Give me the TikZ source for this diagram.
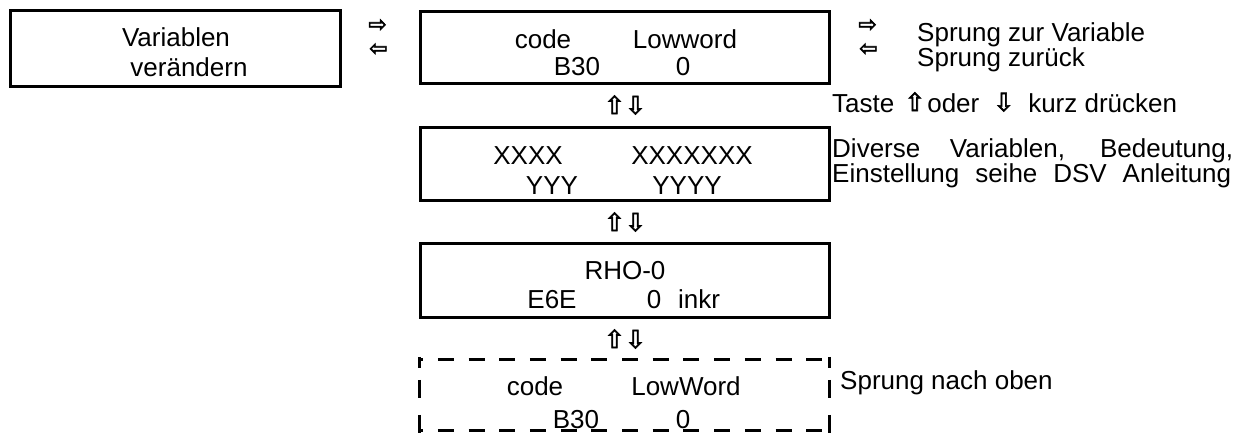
\documentclass[tikz,border=0pt]{standalone}
\usepackage{fontspec}
\setmainfont{Liberation Sans}
\newfontfamily\arrowfont{DejaVu Sans}[FakeBold=2.5]
\tikzset{
  box/.style={draw, line width=3pt, rectangle, inner sep=0pt},
  dline/.style={line width=3pt, dash pattern=on 16pt off 14.7pt, dash phase=12.7pt},
  vdline/.style={line width=3pt, dash pattern=on 11pt off 12pt on 18pt off 17pt on 20pt},
  txt/.style={font=\fontsize{26}{30}\selectfont, inner sep=0pt, anchor=base},
  ltxt/.style={txt, anchor=base west},
  harr/.style={font=\arrowfont\fontsize{22}{22}\selectfont, inner sep=0pt},
  varr/.style={font=\arrowfont\fontsize{25}{25}\selectfont, inner sep=0pt},
}
\newcommand{\ua}{\raisebox{1pt}{{\arrowfont\fontsize{25}{25}\selectfont ⇧}}}
\newcommand{\da}{\raisebox{1pt}{{\arrowfont\fontsize{25}{25}\selectfont ⇩}}}
\begin{document}
\begin{tikzpicture}[x=1pt,y=-1pt]
\useasboundingbox (0,0) rectangle (1242,432);
% boxes
\node[box, minimum width=330pt, minimum height=76pt] (lbox) at (175,48) {};
\node[box, minimum width=409pt, minimum height=72pt] (b1) at (624.5,47) {};
\node[box, minimum width=409pt, minimum height=73pt] (b2) at (624.5,163.5) {};
\node[box, minimum width=409pt, minimum height=74pt] (b3) at (624.5,280) {};
\node[rectangle, inner sep=0pt, minimum width=409pt, minimum height=70pt] (b4) at (624.5,395) {};
\draw[dline] (b4.north west) -- (b4.north east);
\draw[dline] (b4.south west) -- (b4.south east);
\draw[vdline] ([yshift=3pt]b4.north west) -- ([yshift=-3pt]b4.south west);
\draw[vdline] ([yshift=3pt]b4.north east) -- ([yshift=-3pt]b4.south east);
% left box text
\node[txt] (l1) at (176,46) {Variablen};
\node[txt] (l2) at (189,76) {verändern};
% box 1
\node[txt] (b1a) at (543,48) {code};
\node[txt] (b1b) at (685,48) {Lowword};
\node[txt] (b1c) at (577,75) {B30};
\node[txt] (b1d) at (683,75) {0};
% box 2
\node[txt] (b2a) at (528,164) {XXXX};
\node[txt] (b2b) at (692,164) {XXXXXXX};
\node[txt] (b2c) at (552,194) {YYY};
\node[txt] (b2d) at (687,194) {YYYY};
% box 3
\node[txt] (b3a) at (625,279) {RHO-0};
\node[txt] (b3b) at (552,308) {E6E};
\node[txt] (b3c) at (654,308) {0};
\node[txt] (b3d) at (699,308) {inkr};
% box 4
\node[txt] (b4a) at (535,395) {code};
\node[txt] (b4b) at (686,395) {LowWord};
\node[txt] (b4c) at (576,428) {B30};
\node[txt] (b4d) at (683,428) {0};
% arrows
\node[harr] (la1) at (377.5,25.5) {⇨};
\node[harr] (la2) at (378.5,49.5) {⇦};
\node[harr] (ra1) at (867.5,25.5) {⇨};
\node[harr] (ra2) at (868.5,49.5) {⇦};
\node[varr] (v1) at (625,105) {⇧⇩};
\node[varr] (v2) at (625,222) {⇧⇩};
\node[varr] (v3) at (625,339) {⇧⇩};
% right texts
\node[ltxt] (r1) at (917,41) {Sprung zur Variable};
\node[ltxt] (r2) at (917,66) {Sprung zurück};
\node[ltxt] (r3) at (832,112) {Taste\hspace{10pt}\ua\hspace{2pt}oder\hspace{14pt}\da\hspace{14pt}kurz drücken};
\node[ltxt] (r4) at (832,157) {\makebox[401pt][s]{Diverse Variablen, Bedeutung,}};
\node[ltxt] (r5) at (832,182) {\makebox[399pt][s]{Einstellung seihe DSV Anleitung}};
\node[ltxt] (r6) at (840,389) {Sprung nach oben};
\end{tikzpicture}
\end{document}
